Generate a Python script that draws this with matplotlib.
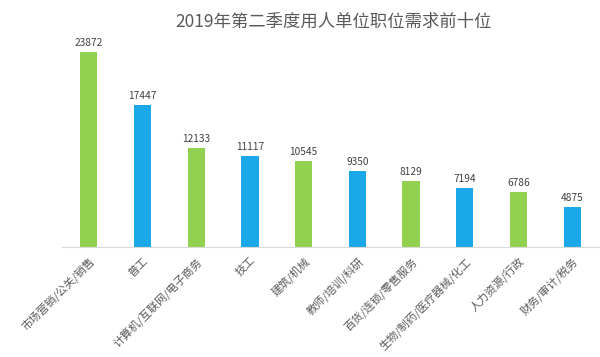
import matplotlib
matplotlib.use("Agg")
import matplotlib.pyplot as plt

plt.rcParams['font.family'] = ['Noto Sans CJK SC', 'DejaVu Sans']

categories = ["市场营销/公关/销售", "普工", "计算机/互联网/电子商务", "技工", "建筑/机械",
              "教师/培训/科研", "百货/连锁/零售服务", "生物/制药/医疗器械/化工",
              "人力资源/行政", "财务/审计/税务"]
values = [23872, 17447, 12133, 11117, 10545, 9350, 8129, 7194, 6786, 4875]
title = "2019年第二季度用人单位职位需求前十位"

green = "#92D050"
blue = "#1BA8E8"
colors = [green if i % 2 == 0 else blue for i in range(len(values))]

fig = plt.figure(figsize=(6, 3.57), dpi=100)
ax = fig.add_axes([62 / 600, 110 / 357, 537 / 600, 212 / 357])
x = range(len(values))
ax.bar(x, values, width=0.32, color=colors)
for xi, v in zip(x, values):
    ax.text(xi, v + 500, str(v), ha="center", va="bottom", fontsize=7.3, color="#404040")

ax.set_xlim(-0.5, len(values) - 0.5)
ax.set_ylim(0, 26000)
ax.set_yticks([])
for s in ["top", "right", "left"]:
    ax.spines[s].set_visible(False)
ax.spines["bottom"].set_color("#D9D9D9")
ax.set_xticks(list(x))
ax.set_xticklabels(categories, rotation=45, ha="right", rotation_mode="anchor",
                   fontsize=8, color="#595959")
ax.tick_params(axis="x", length=0, pad=6)

fig.text(334 / 600, 1 - 22 / 357, title, ha="center", va="center", fontsize=12.5, color="#595959")

fig.savefig("out.png", dpi=100)
